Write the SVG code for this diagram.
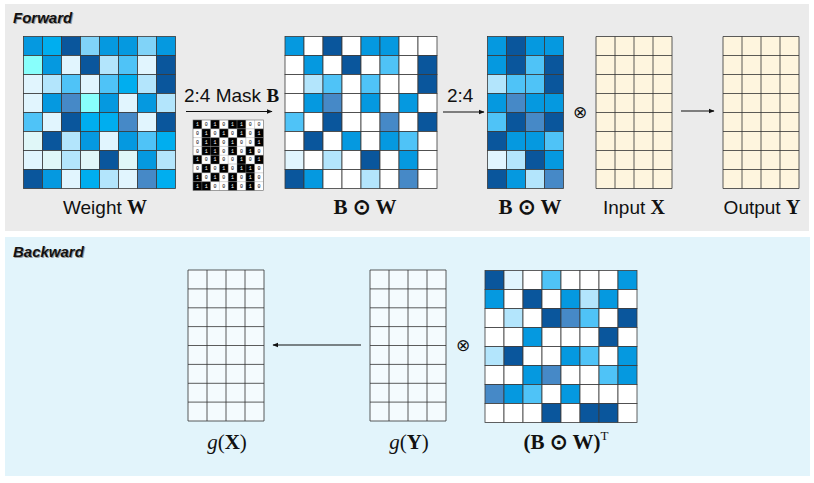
<svg xmlns="http://www.w3.org/2000/svg" width="814" height="483" viewBox="0 0 814 483">
<style>
.c rect{stroke:#3a3a3a;stroke-width:0.8}
.d{fill:#0a569c}.m{fill:#0599e0}.b{fill:#00aeef}.l{fill:#4fc3f7}.ll{fill:#80d3f8}
.p{fill:#b3e5fc}.vp{fill:#e1f5fe}.s{fill:#4689c7}.cy{fill:#88fffc}.e{fill:#e0f7f8}.w{fill:#ffffff}
.lbl{font-family:"Liberation Sans",Arial,sans-serif;font-size:19px;fill:#111}
.mb{font-family:"Liberation Serif","Times New Roman",serif;font-weight:bold}
.ms{font-family:"Liberation Serif","Times New Roman",serif;fill:#111;font-size:21px}
.ttl{font-family:"Liberation Sans",Arial,sans-serif;font-size:15px;font-weight:bold;font-style:italic}
.grid{stroke:#333;stroke-width:0.8;fill:none}
.mk{font-family:"Liberation Mono",monospace;font-size:5px;fill:#000;text-anchor:middle}
.mk tspan{fill:#fff}
.arr{stroke:#111;stroke-width:1.2;fill:none;marker-end:url(#ah)}
.ot{font-family:"DejaVu Sans",sans-serif;font-size:17px;fill:#111;text-anchor:middle}
</style>
<defs>
<marker id="ah" viewBox="0 0 10 10" refX="9" refY="5" markerWidth="6" markerHeight="6" orient="auto" markerUnits="userSpaceOnUse">
<path d="M0,1 L10,5 L0,9 z" fill="#111"/>
</marker>
</defs>

<rect x="5" y="4" width="804" height="227" fill="#ebebeb"/>
<rect x="5" y="237" width="805" height="239" fill="#e2f4fb"/>
<text x="14" y="24" class="ttl" fill="#9a9a9a">Forward</text>
<text x="13" y="23" class="ttl" fill="#111">Forward</text>
<text x="14" y="258" class="ttl" fill="#9a9a9a">Backward</text>
<text x="13" y="257" class="ttl" fill="#111">Backward</text>

<g id="weight">
<g class="c" transform="translate(23.5,36.5)">
<rect x="0" y="0" width="19" height="19" class="m"/><rect x="19" y="0" width="19" height="19" class="b"/><rect x="38" y="0" width="19" height="19" class="d"/><rect x="57" y="0" width="19" height="19" class="ll"/><rect x="76" y="0" width="19" height="19" class="m"/><rect x="95" y="0" width="19" height="19" class="m"/><rect x="114" y="0" width="19" height="19" class="ll"/><rect x="133" y="0" width="19" height="19" class="m"/>
<rect x="0" y="19" width="19" height="19" class="cy"/><rect x="19" y="19" width="19" height="19" class="m"/><rect x="38" y="19" width="19" height="19" class="vp"/><rect x="57" y="19" width="19" height="19" class="d"/><rect x="76" y="19" width="19" height="19" class="p"/><rect x="95" y="19" width="19" height="19" class="l"/><rect x="114" y="19" width="19" height="19" class="vp"/><rect x="133" y="19" width="19" height="19" class="d"/>
<rect x="0" y="38" width="19" height="19" class="vp"/><rect x="19" y="38" width="19" height="19" class="p"/><rect x="38" y="38" width="19" height="19" class="l"/><rect x="57" y="38" width="19" height="19" class="vp"/><rect x="76" y="38" width="19" height="19" class="l"/><rect x="95" y="38" width="19" height="19" class="b"/><rect x="114" y="38" width="19" height="19" class="p"/><rect x="133" y="38" width="19" height="19" class="d"/>
<rect x="0" y="57" width="19" height="19" class="vp"/><rect x="19" y="57" width="19" height="19" class="m"/><rect x="38" y="57" width="19" height="19" class="s"/><rect x="57" y="57" width="19" height="19" class="cy"/><rect x="76" y="57" width="19" height="19" class="m"/><rect x="95" y="57" width="19" height="19" class="vp"/><rect x="114" y="57" width="19" height="19" class="m"/><rect x="133" y="57" width="19" height="19" class="p"/>
<rect x="0" y="76" width="19" height="19" class="l"/><rect x="19" y="76" width="19" height="19" class="vp"/><rect x="38" y="76" width="19" height="19" class="d"/><rect x="57" y="76" width="19" height="19" class="b"/><rect x="76" y="76" width="19" height="19" class="b"/><rect x="95" y="76" width="19" height="19" class="s"/><rect x="114" y="76" width="19" height="19" class="vp"/><rect x="133" y="76" width="19" height="19" class="d"/>
<rect x="0" y="95" width="19" height="19" class="e"/><rect x="19" y="95" width="19" height="19" class="d"/><rect x="38" y="95" width="19" height="19" class="p"/><rect x="57" y="95" width="19" height="19" class="m"/><rect x="76" y="95" width="19" height="19" class="vp"/><rect x="95" y="95" width="19" height="19" class="m"/><rect x="114" y="95" width="19" height="19" class="l"/><rect x="133" y="95" width="19" height="19" class="b"/>
<rect x="0" y="114" width="19" height="19" class="vp"/><rect x="19" y="114" width="19" height="19" class="e"/><rect x="38" y="114" width="19" height="19" class="p"/><rect x="57" y="114" width="19" height="19" class="e"/><rect x="76" y="114" width="19" height="19" class="d"/><rect x="95" y="114" width="19" height="19" class="e"/><rect x="114" y="114" width="19" height="19" class="m"/><rect x="133" y="114" width="19" height="19" class="p"/>
<rect x="0" y="133" width="19" height="19" class="d"/><rect x="19" y="133" width="19" height="19" class="m"/><rect x="38" y="133" width="19" height="19" class="vp"/><rect x="57" y="133" width="19" height="19" class="b"/><rect x="76" y="133" width="19" height="19" class="p"/><rect x="95" y="133" width="19" height="19" class="vp"/><rect x="114" y="133" width="19" height="19" class="s"/><rect x="133" y="133" width="19" height="19" class="b"/>
</g>
<text x="105" y="214" class="lbl" text-anchor="middle">Weight <tspan class="mb" font-size="20">W</tspan></text>
</g>

<g id="mask" transform="translate(193,120)">
<rect x="0" y="0" width="70.4" height="70.4" fill="#fff"/>
<g fill="#000">
<rect x="0" y="0" width="8.8" height="8.8"/><rect x="17.6" y="0" width="8.8" height="8.8"/><rect x="35.2" y="0" width="17.6" height="8.8"/>
<rect x="8.8" y="8.8" width="8.8" height="8.8"/><rect x="26.4" y="8.8" width="8.8" height="8.8"/><rect x="44" y="8.8" width="8.8" height="8.8"/><rect x="61.6" y="8.8" width="8.8" height="8.8"/>
<rect x="8.8" y="17.6" width="17.6" height="8.8"/><rect x="35.2" y="17.6" width="8.8" height="8.8"/><rect x="61.6" y="17.6" width="8.8" height="8.8"/>
<rect x="8.8" y="26.4" width="17.6" height="8.8"/><rect x="35.2" y="26.4" width="8.8" height="8.8"/><rect x="52.8" y="26.4" width="8.8" height="8.8"/>
<rect x="0" y="35.2" width="8.8" height="8.8"/><rect x="17.6" y="35.2" width="8.8" height="8.8"/><rect x="44" y="35.2" width="8.8" height="8.8"/><rect x="61.6" y="35.2" width="8.8" height="8.8"/>
<rect x="8.8" y="44" width="8.8" height="8.8"/><rect x="26.4" y="44" width="8.8" height="8.8"/><rect x="44" y="44" width="17.6" height="8.8"/>
<rect x="0" y="52.8" width="8.8" height="8.8"/><rect x="17.6" y="52.8" width="8.8" height="8.8"/><rect x="35.2" y="52.8" width="8.8" height="8.8"/><rect x="52.8" y="52.8" width="8.8" height="8.8"/>
<rect x="0" y="61.6" width="17.6" height="8.8"/><rect x="35.2" y="61.6" width="8.8" height="8.8"/><rect x="52.8" y="61.6" width="8.8" height="8.8"/>
</g>
<path d="M8.8,0V70.4M17.6,0V70.4M26.4,0V70.4M35.2,0V70.4M44,0V70.4M52.8,0V70.4M61.6,0V70.4M0,8.8H70.4M0,17.6H70.4M0,26.4H70.4M0,35.2H70.4M0,44H70.4M0,52.8H70.4M0,61.6H70.4" stroke="#9a9a9a" stroke-width="0.4"/>
<rect x="0" y="0" width="70.4" height="70.4" fill="none" stroke="#666" stroke-width="0.6"/>
<text class="mk" x="4.4 13.2 22 30.8 39.6 48.4 57.2 66" y="6.2"><tspan>1</tspan>0<tspan>1</tspan>0<tspan>1</tspan><tspan>1</tspan>00</text>
<text class="mk" x="4.4 13.2 22 30.8 39.6 48.4 57.2 66" y="15">0<tspan>1</tspan>0<tspan>1</tspan>0<tspan>1</tspan>0<tspan>1</tspan></text>
<text class="mk" x="4.4 13.2 22 30.8 39.6 48.4 57.2 66" y="23.8">0<tspan>1</tspan><tspan>1</tspan>0<tspan>1</tspan>00<tspan>1</tspan></text>
<text class="mk" x="4.4 13.2 22 30.8 39.6 48.4 57.2 66" y="32.6">0<tspan>1</tspan><tspan>1</tspan>0<tspan>1</tspan>0<tspan>1</tspan>0</text>
<text class="mk" x="4.4 13.2 22 30.8 39.6 48.4 57.2 66" y="41.4"><tspan>1</tspan>0<tspan>1</tspan>00<tspan>1</tspan>0<tspan>1</tspan></text>
<text class="mk" x="4.4 13.2 22 30.8 39.6 48.4 57.2 66" y="50.2">0<tspan>1</tspan>0<tspan>1</tspan>0<tspan>1</tspan><tspan>1</tspan>0</text>
<text class="mk" x="4.4 13.2 22 30.8 39.6 48.4 57.2 66" y="59"><tspan>1</tspan>0<tspan>1</tspan>0<tspan>1</tspan>0<tspan>1</tspan>0</text>
<text class="mk" x="4.4 13.2 22 30.8 39.6 48.4 57.2 66" y="67.8"><tspan>1</tspan><tspan>1</tspan>00<tspan>1</tspan>0<tspan>1</tspan>0</text>
</g>

<g id="masked">
<g class="c" transform="translate(285,36.5)">
<rect x="0" y="0" width="19" height="19" class="m"/><rect x="19" y="0" width="19" height="19" class="w"/><rect x="38" y="0" width="19" height="19" class="d"/><rect x="57" y="0" width="19" height="19" class="w"/><rect x="76" y="0" width="19" height="19" class="m"/><rect x="95" y="0" width="19" height="19" class="m"/><rect x="114" y="0" width="19" height="19" class="w"/><rect x="133" y="0" width="19" height="19" class="w"/>
<rect x="0" y="19" width="19" height="19" class="w"/><rect x="19" y="19" width="19" height="19" class="m"/><rect x="38" y="19" width="19" height="19" class="w"/><rect x="57" y="19" width="19" height="19" class="d"/><rect x="76" y="19" width="19" height="19" class="w"/><rect x="95" y="19" width="19" height="19" class="l"/><rect x="114" y="19" width="19" height="19" class="w"/><rect x="133" y="19" width="19" height="19" class="d"/>
<rect x="0" y="38" width="19" height="19" class="w"/><rect x="19" y="38" width="19" height="19" class="p"/><rect x="38" y="38" width="19" height="19" class="l"/><rect x="57" y="38" width="19" height="19" class="w"/><rect x="76" y="38" width="19" height="19" class="l"/><rect x="95" y="38" width="19" height="19" class="w"/><rect x="114" y="38" width="19" height="19" class="w"/><rect x="133" y="38" width="19" height="19" class="d"/>
<rect x="0" y="57" width="19" height="19" class="w"/><rect x="19" y="57" width="19" height="19" class="m"/><rect x="38" y="57" width="19" height="19" class="s"/><rect x="57" y="57" width="19" height="19" class="w"/><rect x="76" y="57" width="19" height="19" class="m"/><rect x="95" y="57" width="19" height="19" class="w"/><rect x="114" y="57" width="19" height="19" class="m"/><rect x="133" y="57" width="19" height="19" class="w"/>
<rect x="0" y="76" width="19" height="19" class="l"/><rect x="19" y="76" width="19" height="19" class="w"/><rect x="38" y="76" width="19" height="19" class="d"/><rect x="57" y="76" width="19" height="19" class="w"/><rect x="76" y="76" width="19" height="19" class="w"/><rect x="95" y="76" width="19" height="19" class="s"/><rect x="114" y="76" width="19" height="19" class="w"/><rect x="133" y="76" width="19" height="19" class="d"/>
<rect x="0" y="95" width="19" height="19" class="w"/><rect x="19" y="95" width="19" height="19" class="d"/><rect x="38" y="95" width="19" height="19" class="w"/><rect x="57" y="95" width="19" height="19" class="m"/><rect x="76" y="95" width="19" height="19" class="w"/><rect x="95" y="95" width="19" height="19" class="m"/><rect x="114" y="95" width="19" height="19" class="l"/><rect x="133" y="95" width="19" height="19" class="w"/>
<rect x="0" y="114" width="19" height="19" class="vp"/><rect x="19" y="114" width="19" height="19" class="w"/><rect x="38" y="114" width="19" height="19" class="p"/><rect x="57" y="114" width="19" height="19" class="w"/><rect x="76" y="114" width="19" height="19" class="d"/><rect x="95" y="114" width="19" height="19" class="w"/><rect x="114" y="114" width="19" height="19" class="m"/><rect x="133" y="114" width="19" height="19" class="w"/>
<rect x="0" y="133" width="19" height="19" class="d"/><rect x="19" y="133" width="19" height="19" class="m"/><rect x="38" y="133" width="19" height="19" class="w"/><rect x="57" y="133" width="19" height="19" class="w"/><rect x="76" y="133" width="19" height="19" class="p"/><rect x="95" y="133" width="19" height="19" class="w"/><rect x="114" y="133" width="19" height="19" class="s"/><rect x="133" y="133" width="19" height="19" class="w"/>
</g>
<text x="365" y="214" class="ms mb" text-anchor="middle">B ⊙ W</text>
</g>

<g id="compressed">
<g class="c" transform="translate(487.5,36.5)">
<rect x="0" y="0" width="19" height="19" class="m"/><rect x="19" y="0" width="19" height="19" class="d"/><rect x="38" y="0" width="19" height="19" class="m"/><rect x="57" y="0" width="19" height="19" class="m"/>
<rect x="0" y="19" width="19" height="19" class="m"/><rect x="19" y="19" width="19" height="19" class="d"/><rect x="38" y="19" width="19" height="19" class="l"/><rect x="57" y="19" width="19" height="19" class="d"/>
<rect x="0" y="38" width="19" height="19" class="p"/><rect x="19" y="38" width="19" height="19" class="l"/><rect x="38" y="38" width="19" height="19" class="l"/><rect x="57" y="38" width="19" height="19" class="d"/>
<rect x="0" y="57" width="19" height="19" class="m"/><rect x="19" y="57" width="19" height="19" class="s"/><rect x="38" y="57" width="19" height="19" class="m"/><rect x="57" y="57" width="19" height="19" class="m"/>
<rect x="0" y="76" width="19" height="19" class="l"/><rect x="19" y="76" width="19" height="19" class="d"/><rect x="38" y="76" width="19" height="19" class="s"/><rect x="57" y="76" width="19" height="19" class="d"/>
<rect x="0" y="95" width="19" height="19" class="d"/><rect x="19" y="95" width="19" height="19" class="m"/><rect x="38" y="95" width="19" height="19" class="m"/><rect x="57" y="95" width="19" height="19" class="l"/>
<rect x="0" y="114" width="19" height="19" class="vp"/><rect x="19" y="114" width="19" height="19" class="p"/><rect x="38" y="114" width="19" height="19" class="d"/><rect x="57" y="114" width="19" height="19" class="m"/>
<rect x="0" y="133" width="19" height="19" class="d"/><rect x="19" y="133" width="19" height="19" class="m"/><rect x="38" y="133" width="19" height="19" class="p"/><rect x="57" y="133" width="19" height="19" class="s"/>
</g>
<text x="530" y="214" class="ms mb" text-anchor="middle">B ⊙ W</text>
</g>

<g id="inputX">
<rect x="596" y="36.5" width="76" height="152" fill="#fef5de"/>
<path class="grid" transform="translate(596,36.5)" d="M0,0H76V152H0Z M19,0V152M38,0V152M57,0V152M0,19H76M0,38H76M0,57H76M0,76H76M0,95H76M0,114H76M0,133H76"/>
<text x="634" y="214" class="lbl" text-anchor="middle">Input <tspan class="mb" font-size="20">X</tspan></text>
</g>

<g id="outputY">
<rect x="723" y="36.5" width="76" height="152" fill="#fef5de"/>
<path class="grid" transform="translate(723,36.5)" d="M0,0H76V152H0Z M19,0V152M38,0V152M57,0V152M0,19H76M0,38H76M0,57H76M0,76H76M0,95H76M0,114H76M0,133H76"/>
<text x="762" y="214" class="lbl" text-anchor="middle">Output <tspan class="mb" font-size="20">Y</tspan></text>
</g>

<g id="gX">
<rect x="188" y="270" width="76" height="151" fill="#f4fbfe"/>
<path class="grid" transform="translate(188,270)" d="M0,0H76V151H0Z M19,0V151M38,0V151M57,0V151M0,18.9H76M0,37.8H76M0,56.6H76M0,75.5H76M0,94.4H76M0,113.3H76M0,132.1H76"/>
<text x="227" y="449" class="ms" text-anchor="middle"><tspan font-style="italic">g</tspan>(<tspan font-weight="bold">X</tspan>)</text>
</g>

<g id="gY">
<rect x="370" y="270" width="76" height="151" fill="#f4fbfe"/>
<path class="grid" transform="translate(370,270)" d="M0,0H76V151H0Z M19,0V151M38,0V151M57,0V151M0,18.9H76M0,37.8H76M0,56.6H76M0,75.5H76M0,94.4H76M0,113.3H76M0,132.1H76"/>
<text x="409" y="449" class="ms" text-anchor="middle"><tspan font-style="italic">g</tspan>(<tspan font-weight="bold">Y</tspan>)</text>
</g>

<g id="transposed">
<g class="c" transform="translate(485,270.5)">
<rect x="0" y="0" width="19" height="19" class="d"/><rect x="19" y="0" width="19" height="19" class="vp"/><rect x="38" y="0" width="19" height="19" class="w"/><rect x="57" y="0" width="19" height="19" class="l"/><rect x="76" y="0" width="19" height="19" class="w"/><rect x="95" y="0" width="19" height="19" class="w"/><rect x="114" y="0" width="19" height="19" class="w"/><rect x="133" y="0" width="19" height="19" class="m"/>
<rect x="0" y="19" width="19" height="19" class="m"/><rect x="19" y="19" width="19" height="19" class="w"/><rect x="38" y="19" width="19" height="19" class="d"/><rect x="57" y="19" width="19" height="19" class="w"/><rect x="76" y="19" width="19" height="19" class="m"/><rect x="95" y="19" width="19" height="19" class="p"/><rect x="114" y="19" width="19" height="19" class="m"/><rect x="133" y="19" width="19" height="19" class="w"/>
<rect x="0" y="38" width="19" height="19" class="w"/><rect x="19" y="38" width="19" height="19" class="p"/><rect x="38" y="38" width="19" height="19" class="w"/><rect x="57" y="38" width="19" height="19" class="d"/><rect x="76" y="38" width="19" height="19" class="s"/><rect x="95" y="38" width="19" height="19" class="l"/><rect x="114" y="38" width="19" height="19" class="w"/><rect x="133" y="38" width="19" height="19" class="d"/>
<rect x="0" y="57" width="19" height="19" class="w"/><rect x="19" y="57" width="19" height="19" class="w"/><rect x="38" y="57" width="19" height="19" class="m"/><rect x="57" y="57" width="19" height="19" class="w"/><rect x="76" y="57" width="19" height="19" class="w"/><rect x="95" y="57" width="19" height="19" class="w"/><rect x="114" y="57" width="19" height="19" class="d"/><rect x="133" y="57" width="19" height="19" class="w"/>
<rect x="0" y="76" width="19" height="19" class="p"/><rect x="19" y="76" width="19" height="19" class="d"/><rect x="38" y="76" width="19" height="19" class="w"/><rect x="57" y="76" width="19" height="19" class="w"/><rect x="76" y="76" width="19" height="19" class="m"/><rect x="95" y="76" width="19" height="19" class="l"/><rect x="114" y="76" width="19" height="19" class="w"/><rect x="133" y="76" width="19" height="19" class="m"/>
<rect x="0" y="95" width="19" height="19" class="w"/><rect x="19" y="95" width="19" height="19" class="w"/><rect x="38" y="95" width="19" height="19" class="m"/><rect x="57" y="95" width="19" height="19" class="s"/><rect x="76" y="95" width="19" height="19" class="w"/><rect x="95" y="95" width="19" height="19" class="w"/><rect x="114" y="95" width="19" height="19" class="l"/><rect x="133" y="95" width="19" height="19" class="m"/>
<rect x="0" y="114" width="19" height="19" class="s"/><rect x="19" y="114" width="19" height="19" class="m"/><rect x="38" y="114" width="19" height="19" class="l"/><rect x="57" y="114" width="19" height="19" class="w"/><rect x="76" y="114" width="19" height="19" class="m"/><rect x="95" y="114" width="19" height="19" class="w"/><rect x="114" y="114" width="19" height="19" class="w"/><rect x="133" y="114" width="19" height="19" class="w"/>
<rect x="0" y="133" width="19" height="19" class="w"/><rect x="19" y="133" width="19" height="19" class="w"/><rect x="38" y="133" width="19" height="19" class="w"/><rect x="57" y="133" width="19" height="19" class="d"/><rect x="76" y="133" width="19" height="19" class="w"/><rect x="95" y="133" width="19" height="19" class="d"/><rect x="114" y="133" width="19" height="19" class="d"/><rect x="133" y="133" width="19" height="19" class="w"/>
</g>
<text x="566" y="449" class="ms" text-anchor="middle"><tspan font-weight="bold">(B ⊙ W)</tspan><tspan font-size="13" dy="-9">T</tspan></text>
</g>

<g id="connectors">
<path class="arr" d="M186,111.5H272"/>
<text x="184" y="102" class="lbl" font-size="18">2:4 Mask <tspan class="mb">B</tspan></text>
<path class="arr" d="M443,112H484"/>
<text x="447" y="102" class="lbl" font-size="18">2:4</text>
<text x="580" y="118" class="ot">⊗</text>
<path class="arr" d="M681,111H714"/>
<path class="arr" d="M361,345H273"/>
<text x="463" y="351" class="ot">⊗</text>
</g>
</svg>
